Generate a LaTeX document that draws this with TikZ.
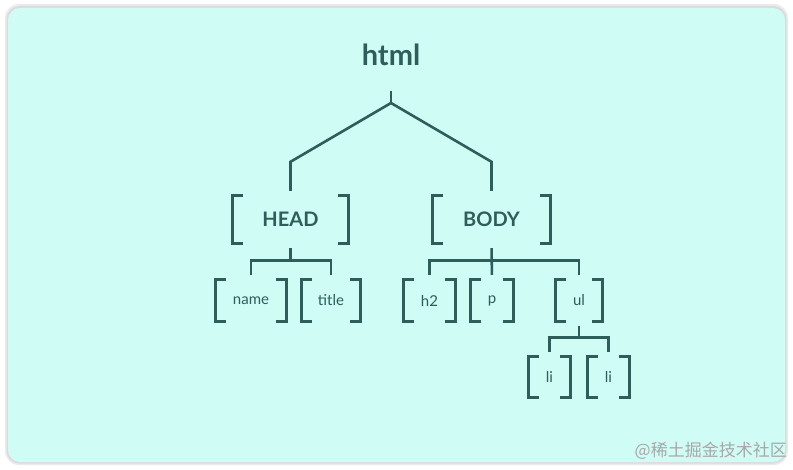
\documentclass[tikz,border=0pt]{standalone}
\usepackage{fontspec}
\setmainfont{Lato}
\newfontfamily\cjkfont{Noto Sans CJK SC}
\usetikzlibrary{positioning,calc}
\definecolor{ink}{HTML}{2D5E5A}
\definecolor{paper}{HTML}{CFFCF5}
\definecolor{markgray}{HTML}{A8A8A8}
\tikzset{
  link/.style={draw=ink, line width=2.6pt, shorten <=5pt, shorten >=5pt},
  brk/.style={draw=ink, line width=3pt},
  tag/.style={inner sep=0pt, minimum height=41pt, text=ink,
    font=\fontsize{15}{18}\selectfont},
  bigtag/.style={tag, minimum height=47pt,
    font=\bfseries\fontsize{20}{24}\selectfont},
}

\begin{document}
\begin{tikzpicture}[x=1pt,y=1pt]
  \useasboundingbox (0,0) rectangle (793,469);
  % card
  \fill[black!8, rounded corners=14] (5,4) rectangle (788,465);
  \fill[black!14, rounded corners=13] (6.5,5.5) rectangle (786.5,463);
  \fill[paper, rounded corners=12] (8,7) rectangle (785,461);

  \node[font=\bfseries\fontsize{29}{32}\selectfont, text=ink, inner sep=0pt,
        anchor=base] (html) at (391,403) {html};
  \coordinate (fork) at (391,366);

  \node[bigtag, minimum width=115] (head) at (290.5,249.5) {HEAD};
  \node[bigtag, minimum width=117] (body) at (491.5,249.5) {BODY};

  \node[tag, minimum width=70] (name)  at (251,168.5) {name};
  \node[tag, minimum width=58] (title) at (331,168.5) {title};
  \node[tag, minimum width=51] (h2)    at (429.5,168.5) {h2};
  \node[tag, minimum width=42] (p)     at (492,168.5) {p};
  \node[tag, minimum width=46] (ul)    at (579,168.5) {ul};
  \node[tag, minimum width=41, minimum height=40] (li1) at (549.5,92) {li};
  \node[tag, minimum width=41, minimum height=40] (li2) at (608.5,92) {li};

  % brackets
  \foreach \n in {head,body,name,title,h2,p,ul,li1,li2}
    \draw[brk] ([xshift=10pt]\n.north west) -| (\n.south west) -- ++(10,0)
               ([xshift=-10pt]\n.north east) -| (\n.south east) -- ++(-10,0);

  % connectors
  \draw[link, shorten <=25pt, shorten >=0pt] (html.south) -- (fork);
  \draw[link] (head.north) -- ++(0,34) -- (fork)
    -- ($(body.north)+(0,34)$) -- (body.north);
  \draw[link, shorten >=0pt] (head.south) -- ++(0,-18);
  \draw[link] (name.north) -- ++(0,19) -| (title.north);
  \draw[link] (body.south) -- (p.north);
  \draw[link] (h2.north) -- ++(0,19) -| (ul.north);
  \draw[link, shorten >=0pt] (ul.south) -- ++(0,-17);
  \draw[link] (li1.north) -- ++(0,19) -| (li2.north);

  \node[font=\cjkfont\fontsize{17}{20}\selectfont, text=markgray, inner sep=0pt,
        anchor=base east] (mark) at (787,13) {@稀土掘金技术社区};
\end{tikzpicture}
\end{document}
